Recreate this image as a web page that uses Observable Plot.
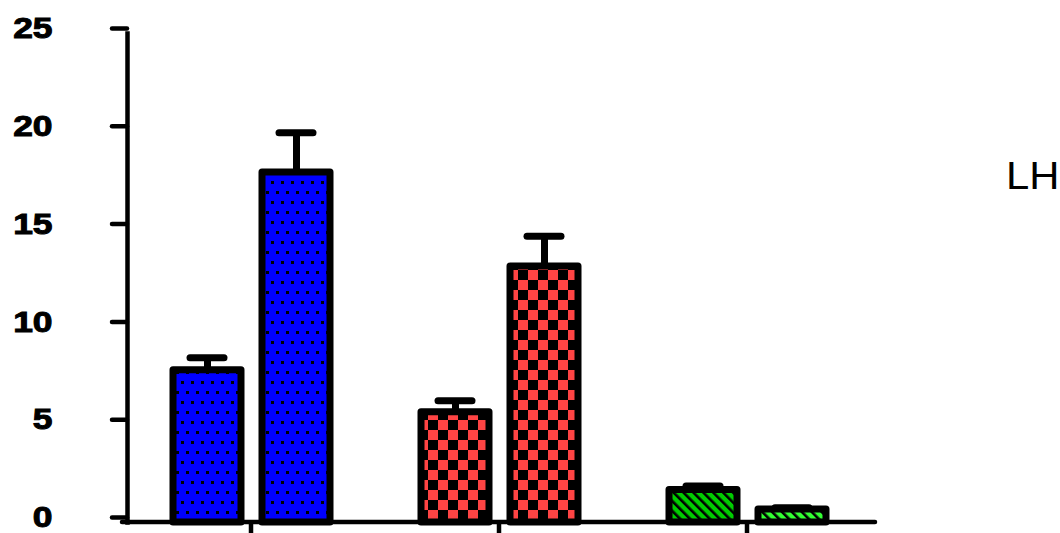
<!DOCTYPE html>
<html>
<head>
<meta charset="utf-8">
<script src="https://cdn.jsdelivr.net/npm/d3@7"></script>
<script src="https://cdn.jsdelivr.net/npm/@observablehq/plot@0.6"></script>
<style>
  body { margin: 0; background: #fff; }
  #chart { width: 1060px; height: 533px; }
</style>
</head>
<body>
<div id="chart"></div>
<script>
// Three groups, two bars each (mean ± error)
const groups = ["A", "B", "C"];
const series = ["1", "2"];
const means  = [7.78, 17.9, 5.64, 13.09, 1.66, 0.67];
const errors = [0.64, 2.02, 0.58, 1.55, 0.20, 0.09];
const fills  = ["dots", "dots", "checks", "checks", "stripes", "stripesLight"];
const yTicks = [0, 5, 10, 15, 20, 25];
const sideLabel = "LH";

const rows = means.map((m, i) => ({
  group: groups[Math.floor(i / 2)],
  series: series[i % 2],
  mean: m,
  err: errors[i],
  fill: `url(#${fills[i]})`
}));

const W = 1060, H = 533;
const axisW = 4.5;

const svg = Plot.plot({
  width: W,
  height: H,
  marginTop: 33,
  marginBottom: 11,
  marginLeft: 127,
  marginRight: 189,
  style: { fontFamily: "'Liberation Sans', Arial, sans-serif", color: "black", background: "white", overflow: "visible" },
  fx: { domain: groups, padding: 0, axis: null },
  x: { domain: series, paddingInner: 0.236, paddingOuter: 0.511, axis: null },
  y: { domain: [0, 25] },
  color: { type: "identity" },
  marks: [
    Plot.barY(rows, {
      fx: "group", x: "series", y: "mean", fill: "fill",
      stroke: "black", strokeWidth: 7, strokeLinejoin: "round"
    }),
    Plot.ruleX(rows, {
      fx: "group", x: "series", y1: "mean", y2: d => d.mean + d.err,
      stroke: "black", strokeWidth: 7
    }),
    Plot.tickY(rows, {
      fx: "group", x: "series", y: d => d.mean + d.err,
      stroke: "black", strokeWidth: 7, strokeLinecap: "round",
      insetLeft: 17, insetRight: 17
    }),
    Plot.frame({ anchor: "left", facetAnchor: "left", stroke: "black", strokeWidth: axisW }),
    Plot.axisY(yTicks, {
      tickSize: 15, tickPadding: 60, strokeWidth: axisW, strokeLinecap: "round",
      fontSize: 30, fontWeight: "bold", dy: -5, label: null, tickFormat: d => String(d)
    })
  ]
});

const root = d3.select(svg);

// Fill patterns for the bars
const defs = root.insert("defs", ":first-child");

const dots = defs.append("pattern").attr("id", "dots")
  .attr("patternUnits", "userSpaceOnUse").attr("width", 10).attr("height", 20);
dots.append("rect").attr("width", 10).attr("height", 20).attr("fill", "#0000ff");
dots.append("rect").attr("x", 1).attr("y", 1).attr("width", 3).attr("height", 3).attr("fill", "black");
dots.append("rect").attr("x", 6).attr("y", 11).attr("width", 3).attr("height", 3).attr("fill", "black");

const checks = defs.append("pattern").attr("id", "checks")
  .attr("patternUnits", "userSpaceOnUse").attr("width", 20).attr("height", 20);
checks.append("rect").attr("width", 20).attr("height", 20).attr("fill", "#ff4444");
checks.append("rect").attr("width", 10).attr("height", 10).attr("fill", "black");
checks.append("rect").attr("x", 10).attr("y", 10).attr("width", 10).attr("height", 10).attr("fill", "black");

function stripes(id, color) {
  const p = defs.append("pattern").attr("id", id)
    .attr("patternUnits", "userSpaceOnUse").attr("width", 7).attr("height", 7)
    .attr("patternTransform", "rotate(-45)");
  p.append("rect").attr("width", 7).attr("height", 7).attr("fill", color);
  p.append("rect").attr("width", 2.6).attr("height", 7).attr("fill", "black");
}
stripes("stripes", "#00cc00");
stripes("stripesLight", "#33ff33");

// Category axis: baseline across all groups plus a downward tick at each group centre
const fx = svg.scale("fx"), y = svg.scale("y");
const fxScale = d3.scaleBand(fx.domain, fx.range).padding(0);
const y0 = y.apply(0);
const xAxis = root.append("g").attr("stroke", "black").attr("stroke-width", axisW);
xAxis.append("line")
  .attr("x1", fx.range[0] - 5).attr("x2", fx.range[1] + 4)
  .attr("y1", y0).attr("y2", y0)
  .attr("stroke-linecap", "round");
xAxis.selectAll("line.tick").data(groups).join("line").attr("class", "tick")
  .attr("x1", g => fxScale(g) + fxScale.bandwidth() / 2)
  .attr("x2", g => fxScale(g) + fxScale.bandwidth() / 2)
  .attr("y1", y0).attr("y2", y0 + 16);

// Widen and embolden the value labels around their anchor point
function stretch(el, k) {
  const x = +(el.getAttribute("x") || 0);
  const t = el.getAttribute("transform") || "";
  el.setAttribute("transform", `${t} translate(${x},0) scale(${k},1) translate(${-x},0)`);
}
root.selectAll('g[aria-label="y-axis tick label"]')
  .attr("font-size", 30).attr("font-weight", "bold")
  .attr("stroke", "black").attr("stroke-width", 1);
root.selectAll('g[aria-label="y-axis tick label"] text').each(function () { stretch(this, 1.18); });

// Label at the right of the plot
const lh = root.append("text")
  .attr("x", 1006).attr("y", 189)
  .attr("font-size", 38)
  .attr("text-anchor", "start")
  .attr("font-family", "'Liberation Sans', Arial, sans-serif")
  .attr("fill", "black")
  .text(sideLabel);
stretch(lh.node(), 1.1);

document.getElementById("chart").append(svg);
</script>
</body>
</html>
